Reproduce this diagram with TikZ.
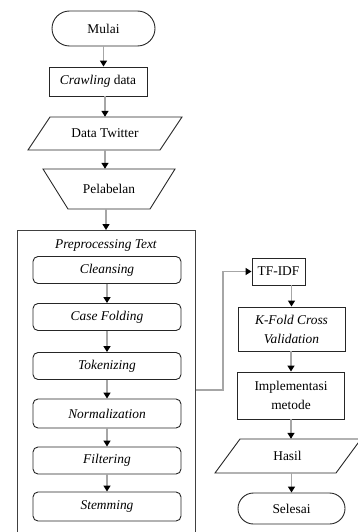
\documentclass[tikz,border=0pt]{standalone}
\usepackage{fontspec}
\setmainfont{LiberationSerif}[Extension=.ttf, UprightFont=*-Regular, ItalicFont=*-Italic, BoldFont=*-Bold, BoldItalicFont=*-BoldItalic]
\usetikzlibrary{arrows.meta,calc}
\begin{document}
\begin{tikzpicture}[x=1pt,y=-1pt,
 txt/.style={font=\fontsize{13.4}{19}\selectfont, align=center, inner sep=0pt},
 box/.style={txt, draw=black!85, line width=0.9pt},
 rbox/.style={box, rounded corners=5pt, minimum width=148pt, minimum height=27pt},
 term/.style={box, minimum height=31pt, rounded corners=15.5pt},
 conn/.style={draw=black!35, line width=1.3pt, -{Triangle[length=6pt,width=7pt,color=black]}},
 shp/.style={draw=black!85, line width=0.9pt, line join=miter},
]
\useasboundingbox (0,0) rectangle (357,532);

% left column
\node[box, minimum width=103pt, minimum height=35pt, rounded corners=17.5pt] (mulai) at (103.5,28.5) {Mulai};
\node[box, minimum width=98pt, minimum height=29pt] (crawl) at (98,81.5) {\textit{Crawling} data};
\node[txt, minimum width=110pt, minimum height=33pt] (twit) at (105,133.5) {Data Twitter};
\draw[shp] (50,117) -- (182,117) -- (160,150) -- (28,150) -- cycle;
\node[txt, minimum width=100pt, minimum height=40pt] (label) at (109,189) {Pelabelan};
\draw[shp] (43,169) -- (175,169) -- (150,209) -- (68,209) -- cycle;

\node[draw=black!75, line width=1pt, minimum width=178pt, minimum height=312pt, inner sep=0pt, anchor=north west] (prep) at (17,230) {};
\node[txt] (ptitle) at (106,245) {\textit{Preprocessing Text}};
\node[rbox] (clean) at (107,270) {\textit{Cleansing}};
\node[rbox] (case) at (107,317) {\textit{Case Folding}};
\node[rbox] (token) at (107,366) {\textit{Tokenizing}};
\node[rbox, minimum height=29pt] (norm) at (107,413.5) {\textit{Normalization}};
\node[rbox] (filter) at (107,460.5) {\textit{Filtering}};
\node[rbox, minimum height=29pt] (stem) at (107,506.5) {\textit{Stemming}};

% right column
\node[box, minimum width=53pt, minimum height=27pt] (tfidf) at (278.5,271.5) {TF-IDF};
\node[box, minimum width=107pt, minimum height=44pt] (kfold) at (291.5,329) {\textit{K-Fold Cross}\\\textit{Validation}};
\node[box, minimum width=107pt, minimum height=47pt] (impl) at (291,395.5) {Implementasi\\metode};
\node[txt, minimum width=100pt, minimum height=34pt] (hasil) at (287.5,456) {Hasil};
\draw[shp] (240,439) -- (361,439) -- (336,473) -- (215,473) -- cycle;
\node[term, minimum width=107pt] (selesai) at (291.5,508.5) {Selesai};

% connectors
\draw[conn] (mulai.south) -- (mulai.south |- crawl.north);
\draw[conn] (twit.north |- crawl.south) -- (twit.north);
\draw[conn] (twit.south) -- (twit.south |- label.north);
\draw[conn] (label.south -| ptitle) -- (prep.north -| ptitle);
\draw[conn] (clean) -- (case);
\draw[conn] (case) -- (token);
\draw[conn] (token) -- (norm);
\draw[conn] (norm) -- (filter);
\draw[conn] (filter) -- (stem);

\coordinate (c1) at (223,390);
\draw[conn] (prep.east |- c1) -- (c1) -- (c1 |- tfidf.west) -- (tfidf.west);
\draw[conn] (tfidf.south -| kfold) -- (kfold.north);
\draw[conn] (kfold.south -| impl) -- (impl.north);
\draw[conn] (impl.south) -- (impl.south |- hasil.north);
\draw[conn] (hasil.south -| selesai) -- (selesai.north);
\end{tikzpicture}
\end{document}
